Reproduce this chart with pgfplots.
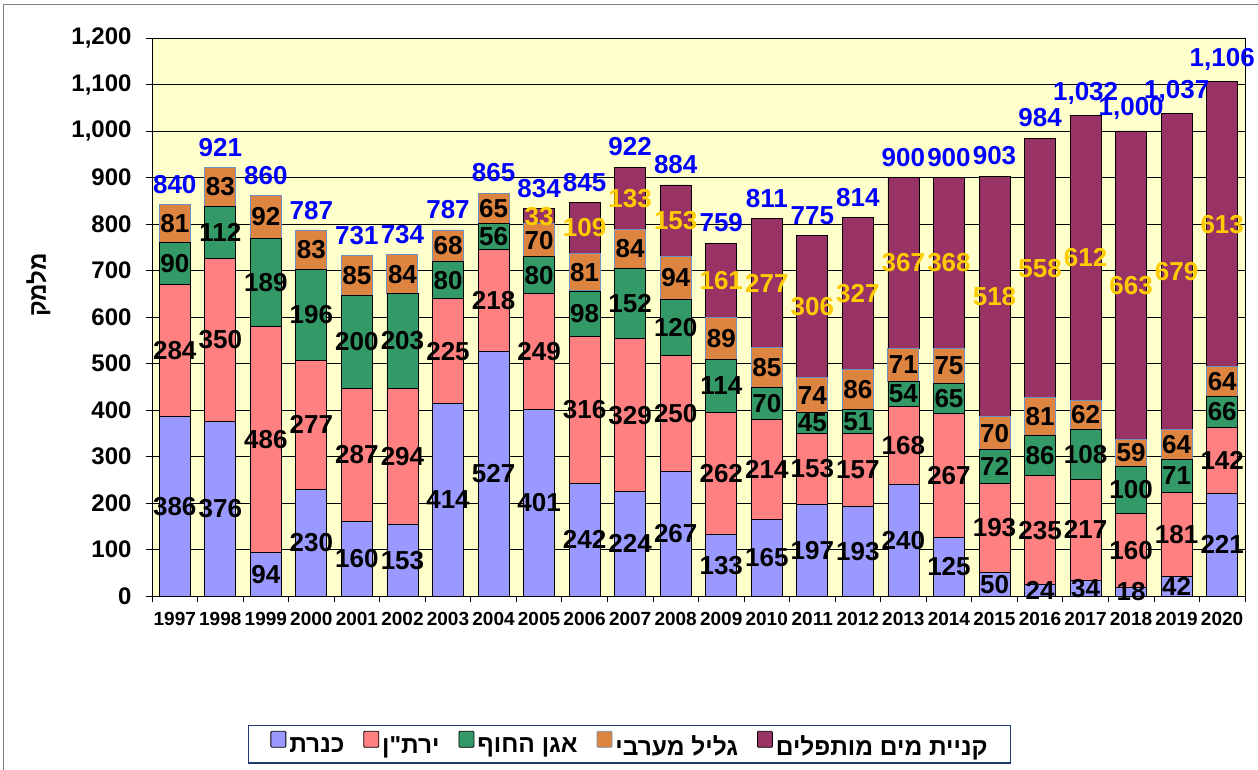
\documentclass[border=0pt]{standalone}
\usepackage{fontspec}
\setmainfont{Liberation Sans}
\newfontfamily\heb[Script=Hebrew]{Liberation Sans}
\TeXXeTstate=1
\usepackage{pgfplots}
\usepackage{pgfplotstable}
\pgfplotsset{compat=1.18}
\pgfkeys{/pgf/number format/assume math mode=true}
\definecolor{cKin}{HTML}{9999FF}
\definecolor{cYar}{HTML}{FF8080}
\definecolor{cCoast}{HTML}{339966}
\definecolor{cGal}{HTML}{DD8540}
\definecolor{cGalEdge}{HTML}{6F8FBF}
\definecolor{cDes}{HTML}{993366}
\definecolor{cBg}{HTML}{FFFFCC}
\definecolor{cTot}{HTML}{0000FF}
\definecolor{cDesLab}{HTML}{FFCC00}
\definecolor{cLegEdge}{HTML}{1F3A70}

\pgfplotstableread{
year kin yar coast gal desal total
1997 386 284 90 81 0 840
1998 376 350 112 83 0 921
1999 94 486 189 92 0 860
2000 230 277 196 83 0 787
2001 160 287 200 85 0 731
2002 153 294 203 84 0 734
2003 414 225 80 68 0 787
2004 527 218 56 65 0 865
2005 401 249 80 70 33 834
2006 242 316 98 81 109 845
2007 224 329 152 84 133 922
2008 267 250 120 94 153 884
2009 133 262 114 89 161 759
2010 165 214 70 85 277 811
2011 197 153 45 74 306 775
2012 193 157 51 86 327 814
2013 240 168 54 71 367 900
2014 125 267 65 75 368 900
2015 50 193 72 70 518 903
2016 24 235 86 81 558 984
2017 34 217 108 62 612 1032
2018 18 160 100 59 663 1000
2019 42 181 71 64 679 1037
2020 221 142 66 64 613 1106
}\data

\pgfplotsset{
  frame/.style={
    at={(152pt,173pt)}, anchor=south west, scale only axis,
    width=1093pt, height=558pt,
    xmin=1996.5, xmax=2020.5, ymin=0, ymax=1200,
  },
  lab/.style={draw=none, nodes near coords, point meta=explicit,
    every node near coord/.append style={anchor=center, inner sep=0pt, text=black,
      font=\bfseries\fontsize{26}{26}\selectfont}},
}

\begin{document}
\begin{tikzpicture}
\useasboundingbox (0pt,0pt) rectangle (1258pt,769pt);
\draw[line width=1.5pt, color=gray] (3.5pt,-2pt) -- (3.5pt,764.5pt) -- (1260pt,764.5pt);
\begin{axis}[frame,
  ybar stacked, bar width=31pt,
  axis background/.style={fill=cBg},
  ymajorgrids, grid style={black, line width=0.6pt},
  axis line style={black, line width=0.8pt},
  xtick={1996.5,1997.5,...,2020.5}, xticklabels={},
  extra x ticks={1997,...,2020},
  extra x tick style={major tick length=0pt, tick style={draw=none}},
  tick align=outside, major tick length=6pt,
  xtick pos=left, ytick pos=left,
  ytick={0,100,...,1200},
  tick style={black, line width=0.8pt},
  xticklabel style={font=\bfseries\fontsize{19}{19}\selectfont, /pgf/number format/1000 sep={}, yshift=-13pt},
  yticklabel style={font=\bfseries\fontsize{24}{24}\selectfont, xshift=-11pt},
  ylabel={\heb\bfseries\beginR מלמק\endR},
  ylabel style={at={(axis description cs:-0.104,0.557)}, anchor=center, font=\fontsize{24}{24}\selectfont},
  legend columns=5,
  legend style={at={(axis description cs:0.4369,-0.266)}, anchor=center, draw=cLegEdge, line width=1.2pt,
    font=\heb\bfseries\fontsize{24.5}{24.5}\selectfont,
    nodes={inner sep=1pt},
    /tikz/every odd column/.append style={column sep=2pt},
    /tikz/every even column/.append style={column sep=18pt},
    inner xsep=22pt, inner ysep=5pt},
  legend image code/.code={\draw[#1, line width=0.8pt, rounded corners=1pt] (0pt,-1pt) rectangle (15pt,15pt);},
]
\addplot[fill=cKin, draw=black, line width=0.8pt] table[x=year,y=kin]{\data};
\addplot[fill=cYar, draw=black, line width=0.8pt] table[x=year,y=yar]{\data};
\addplot[fill=cCoast, draw=black, line width=0.8pt] table[x=year,y=coast]{\data};
\addplot[fill=cGal, draw=cGalEdge, line width=1pt] table[x=year,y=gal]{\data};
\addplot[fill=cDes, draw=black, line width=0.8pt] table[x=year,y=desal]{\data};
\legend{{\beginR כנרת\endR},{\beginR ירת"ן\endR},{\beginR אגן החוף\endR},{\beginR גליל מערבי\endR},{\beginR קניית מים מותפלים\endR}}
\end{axis}
\begin{axis}[frame, hide axis, clip=false]
\addplot[lab] table[x=year, y expr=\thisrow{kin}/2, meta=kin]{\data};
\addplot[lab] table[x=year, y expr=\thisrow{kin}+\thisrow{yar}/2, meta=yar]{\data};
\addplot[lab] table[x=year, y expr=\thisrow{kin}+\thisrow{yar}+\thisrow{coast}/2, meta=coast]{\data};
\addplot[lab] table[x=year, y expr=\thisrow{kin}+\thisrow{yar}+\thisrow{coast}+\thisrow{gal}/2, meta=gal]{\data};
\addplot[lab, skip coords between index={0}{8}, every node near coord/.append style={text=cDesLab}]
  table[x=year, y expr=\thisrow{kin}+\thisrow{yar}+\thisrow{coast}+\thisrow{gal}+\thisrow{desal}/2, meta=desal]{\data};
\addplot[lab, every node near coord/.append style={anchor=south, text=cTot, yshift=11pt}]
  table[x=year, y expr=\thisrow{kin}+\thisrow{yar}+\thisrow{coast}+\thisrow{gal}+\thisrow{desal}, meta=total]{\data};
\end{axis}
\end{tikzpicture}
\end{document}
